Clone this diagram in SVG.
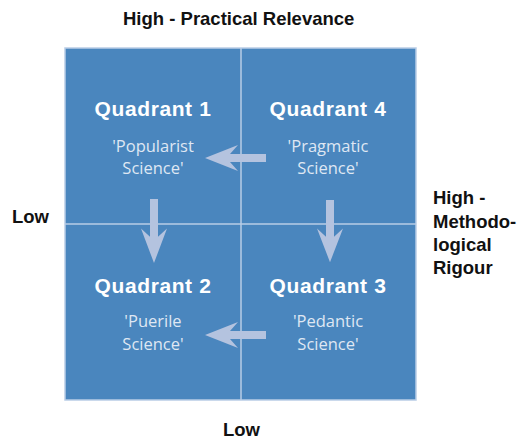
<svg xmlns="http://www.w3.org/2000/svg" width="519" height="441" viewBox="0 0 519 441">
  <style>
    .axis { font-family: "Liberation Sans", Arial, sans-serif; font-weight: bold; font-size: 18.5px; fill: #111; }
    .title { font-family: "Liberation Sans", Arial, sans-serif; font-weight: bold; font-size: 21px; letter-spacing: 0.6px; fill: #ffffff; text-anchor: middle; }
    .sub { font-family: "Open Sans", "Noto Sans", sans-serif; font-size: 16.5px; fill: #dfe7f3; text-anchor: middle; }
    .grid { stroke: #b9cde6; stroke-width: 1.5; fill: none; }
    .arrow { fill: #b4c3df; }
  </style>
  <defs>
    <!-- arrow pointing right, origin at tail -->
    <path id="arr" d="M0,-4 L36,-4 L28,-13 L61,0 L28,13 L36,4 L0,4 Z"/>
  </defs>

  <rect x="65" y="48" width="351" height="352" fill="#4a86be"/>
  <g id="grid">
    <rect class="grid" x="65" y="48" width="351" height="352"/>
    <line class="grid" x1="241" y1="48" x2="241" y2="400"/>
    <line class="grid" x1="65" y1="224" x2="416" y2="224"/>
  </g>

  <g id="q1">
    <text class="title" x="153" y="116">Quadrant 1</text>
    <text class="sub" x="153" y="152">'Popularist</text>
    <text class="sub" x="153" y="174">Science'</text>
  </g>
  <g id="q4">
    <text class="title" x="328" y="116">Quadrant 4</text>
    <text class="sub" x="328" y="152">'Pragmatic</text>
    <text class="sub" x="328" y="174">Science'</text>
  </g>
  <g id="q2">
    <text class="title" x="153" y="293">Quadrant 2</text>
    <text class="sub" x="153" y="327">'Puerile</text>
    <text class="sub" x="153" y="350">Science'</text>
  </g>
  <g id="q3">
    <text class="title" x="328" y="293">Quadrant 3</text>
    <text class="sub" x="328" y="327">'Pedantic</text>
    <text class="sub" x="328" y="350">Science'</text>
  </g>

  <g id="connectors" class="arrow">
    <use href="#arr" transform="translate(266,158) rotate(180)"/>
    <use href="#arr" transform="translate(266,335) rotate(180)"/>
    <use href="#arr" transform="translate(154,199) rotate(90) scale(1.05,1)"/>
    <use href="#arr" transform="translate(330,200) rotate(90) scale(1.02,1)"/>
  </g>

  <g id="labels">
    <text class="axis" x="123" y="25">High - Practical Relevance</text>
    <text class="axis" x="12" y="223">Low</text>
    <text class="axis" x="223" y="436">Low</text>
    <text class="axis" x="433" y="204">High -</text>
    <text class="axis" x="433" y="228">Methodo-</text>
    <text class="axis" x="433" y="251">logical</text>
    <text class="axis" x="433" y="274">Rigour</text>
  </g>
</svg>
